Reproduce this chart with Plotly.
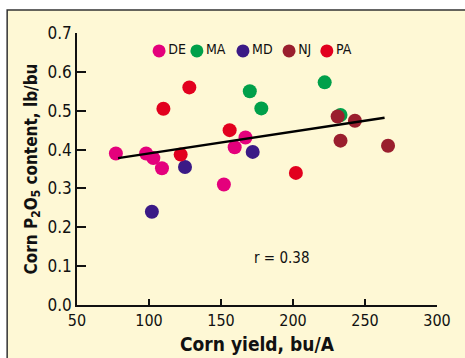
import plotly.graph_objects as go

# ---- data ----
states = ["DE", "MA", "MD", "NJ", "PA"]
colors = ["#E4007C", "#00A04A", "#3B1A86", "#9A1F2E", "#E2001E"]

de_yield = [77, 98, 103, 109, 152, 159.5, 167]
de_p2o5 = [0.39, 0.39, 0.378, 0.352, 0.31, 0.406, 0.431]

ma_yield = [170, 178, 222, 233]
ma_p2o5 = [0.55, 0.506, 0.573, 0.489]

md_yield = [102, 125, 172]
md_p2o5 = [0.24, 0.355, 0.394]

nj_yield = [231, 243, 233, 266]
nj_p2o5 = [0.485, 0.474, 0.423, 0.41]

pa_yield = [110, 128, 122, 156, 202]
pa_p2o5 = [0.505, 0.56, 0.387, 0.45, 0.34]

fit_x = [78.5, 263.6]
fit_y = [0.378, 0.482]

r_text = "r = 0.38"
x_ticks = [50, 100, 150, 200, 250, 300]
y_ticks = [0.0, 0.1, 0.2, 0.3, 0.4, 0.5, 0.6, 0.7]

# legend entry positions (fractions of the plot area)
legend_x = [0.228, 0.333, 0.461, 0.589, 0.694]
legend_y = [0.934] * 5

series = [
    (de_yield, de_p2o5),
    (ma_yield, ma_p2o5),
    (md_yield, md_p2o5),
    (nj_yield, nj_p2o5),
    (pa_yield, pa_p2o5),
]

FONT = "DejaVu Sans Condensed, Arial Narrow, sans-serif"
BG = "#FEF8D5"

fig = go.Figure()
for name, col, (xs, ys) in zip(states, colors, series):
    fig.add_trace(go.Scatter(
        x=xs, y=ys, mode="markers", name=name, showlegend=False,
        marker=dict(color=col, size=14, line=dict(width=0)),
    ))

fig.add_trace(go.Scatter(
    x=fit_x, y=fit_y, mode="lines", showlegend=False,
    line=dict(color="black", width=2.5),
))

# legend built as a small marker+text trace on an overlay axis
fig.add_trace(go.Scatter(
    x=legend_x, y=legend_y, xaxis="x2", yaxis="y2",
    mode="markers+text", text=states, textposition="middle right",
    textfont=dict(family=FONT, size=14, color="#111"),
    marker=dict(color=colors, size=13, line=dict(width=0)),
    showlegend=False, hoverinfo="skip", cliponaxis=False,
))

fig.add_annotation(x=192, y=0.121, xref="x", yref="y", text=r_text,
                   showarrow=False, font=dict(family=FONT, size=15, color="#111"))

# outer frame
fig.add_shape(type="rect", xref="paper", yref="paper",
              x0=-0.194, x1=1.25, y0=-0.35, y1=1.085,
              line=dict(color="#333333", width=1.5), fillcolor=BG, layer="below")

fig.update_layout(
    width=465, height=358,
    margin=dict(l=77, r=28, t=33, b=53),
    paper_bgcolor="white",
    plot_bgcolor="rgba(0,0,0,0)",
    font=dict(family=FONT, color="#111"),
    showlegend=False,
    xaxis=dict(range=[50, 300], tickvals=x_ticks, ticks="inside", ticklen=6, tickwidth=1.5,
               tickcolor="#111", showline=True, linecolor="#111", linewidth=1.5,
               showgrid=False, zeroline=False, tickfont=dict(family=FONT, size=16),
               automargin=False,
               title=dict(text="<b>Corn yield, bu/A</b>", font=dict(family=FONT, size=19), standoff=9)),
    yaxis=dict(range=[0, 0.7], tickvals=y_ticks, tickformat=".1f", ticks="inside", ticklen=9,
               tickwidth=1.5, tickcolor="#111", showline=True, linecolor="#111", linewidth=1.5,
               showgrid=False, zeroline=False, tickfont=dict(family=FONT, size=17),
               automargin=False,
               title=dict(text="<b>Corn P<sub>2</sub>O<sub>5</sub> content, lb/bu</b>",
                          font=dict(family=FONT, size=17), standoff=6)),
    xaxis2=dict(overlaying="x", range=[0, 1], visible=False),
    yaxis2=dict(overlaying="y", range=[0, 1], visible=False),
)

fig.write_html("out.html",
               config={"displayModeBar": False},
               post_script="document.body.style.margin='0';document.body.style.overflow='hidden';")
